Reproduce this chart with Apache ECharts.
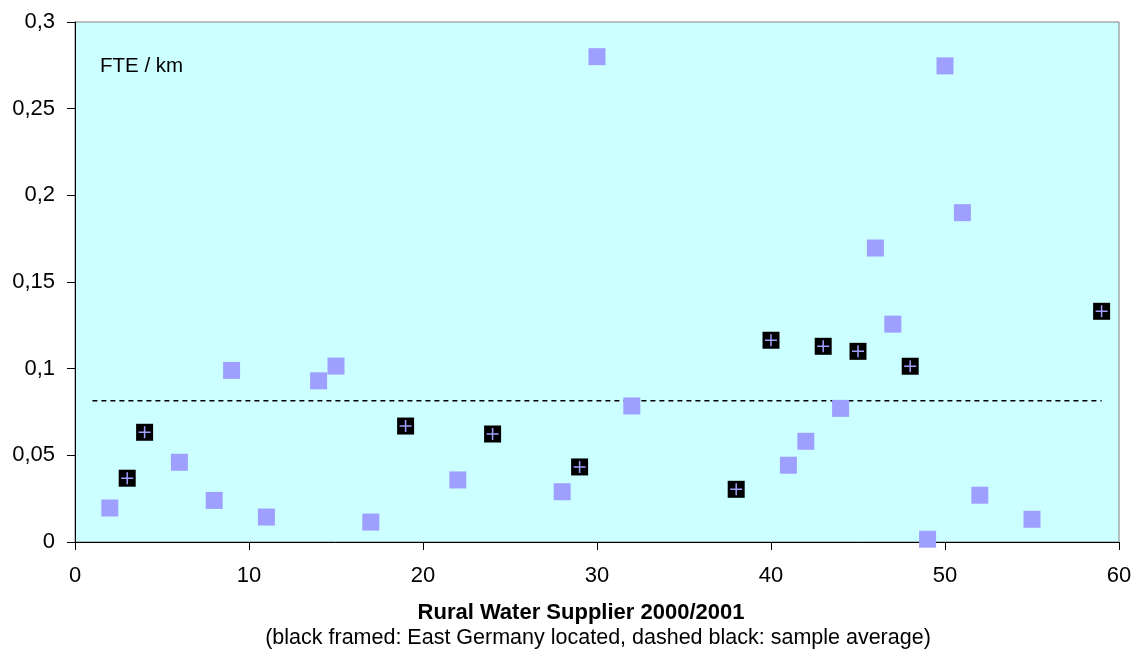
<!DOCTYPE html>
<html><head><meta charset="utf-8">
<script src="https://cdn.jsdelivr.net/npm/echarts@6/dist/echarts.min.js"></script>
<style>html,body{margin:0;padding:0;background:#fff}#c{width:1144px;height:663px}</style>
</head><body><div id="c"></div>
<script>
// West (plain squares): [supplier no., FTE/km]
const westSuppliers = [[2,0.0196],[6,0.046],[8,0.024],[9,0.099],[11,0.0144],[14,0.093],[15,0.1015],[17,0.0115],[22,0.0358],[28,0.029],[30,0.28],[32,0.0785],[41,0.0443],[42,0.0581],[44,0.0771],[46,0.1696],[47,0.1257],[49,0.0016],[50,0.2747],[51,0.19],[52,0.027],[55,0.0131]];
// East Germany located (black framed)
const eastSuppliers = [[3,0.0368],[4,0.0633],[19,0.0669],[24,0.0623],[29,0.0433],[38,0.0304],[40,0.1164],[43,0.1129],[45,0.110],[48,0.1014],[59,0.1331]];
const sampleAverage = 0.0815;
const averageRange = [1, 59];
const xTicks = [0,10,20,30,40,50,60];
const yTicks = [0,0.05,0.1,0.15,0.2,0.25,0.3];

const font = 'Liberation Sans, Arial, sans-serif';
const chart = echarts.init(document.getElementById('c'), null, {renderer:'canvas'});
const plus = 'path://M5.25,0 H6.75 V5.25 H12 V6.75 H6.75 V12 H5.25 V6.75 H0 V5.25 H5.25 Z';
chart.setOption({
  animation:false,
  backgroundColor:'#fff',
  grid:{left:75,right:25,top:22,bottom:121,show:true,backgroundColor:'#CCFFFF',borderColor:'#808080',borderWidth:1},
  title:[
    {text:'Rural Water Supplier 2000/2001',left:581,top:602,padding:0,textAlign:'center',textStyle:{fontFamily:font,fontSize:22,fontWeight:'bold',color:'#000'}},
    {text:'(black framed: East Germany located, dashed black: sample average)',left:598,top:627,padding:0,textAlign:'center',textStyle:{fontFamily:font,fontSize:21.5,fontWeight:'normal',color:'#000'}},
    {text:'FTE / km',left:100,top:56,padding:0,textStyle:{fontFamily:font,fontSize:20.5,fontWeight:'normal',color:'#000'}}
  ],
  xAxis:{type:'value',min:0,max:60,interval:10,
    axisLine:{show:true,onZero:false,lineStyle:{color:'#000',width:1}},
    axisTick:{show:true,length:8,lineStyle:{color:'#000'}},
    axisLabel:{fontFamily:font,fontSize:22,color:'#000',margin:23,formatter:v=>xTicks.includes(v)?String(v):''},
    splitLine:{show:false}},
  yAxis:{type:'value',min:0,max:0.3,interval:0.05,
    axisLine:{show:true,onZero:false,lineStyle:{color:'#000',width:1}},
    axisTick:{show:true,length:8,lineStyle:{color:'#000'}},
    axisLabel:{fontFamily:font,fontSize:22,color:'#000',margin:20,
      formatter:v=>{const t=yTicks.find(y=>Math.abs(y-v)<1e-9);return t===undefined?'':String(+t.toFixed(2)).replace('.',',');}},
    splitLine:{show:false}},
  series:[
    {type:'line',data:[[averageRange[0],sampleAverage],[averageRange[1],sampleAverage]],symbol:'none',
      lineStyle:{color:'#000',width:1.5,type:[5,4]},z:1},
    {type:'scatter',data:westSuppliers,symbol:'rect',symbolSize:17,itemStyle:{color:'#9F9FFF',opacity:1},z:2},
    {type:'scatter',data:eastSuppliers,symbol:'rect',symbolSize:17,itemStyle:{color:'#000',opacity:1},z:3},
    {type:'scatter',data:eastSuppliers,symbol:plus,symbolSize:12,itemStyle:{color:'#A0A0FF',opacity:1},z:4}
  ]
});
</script></body></html>
